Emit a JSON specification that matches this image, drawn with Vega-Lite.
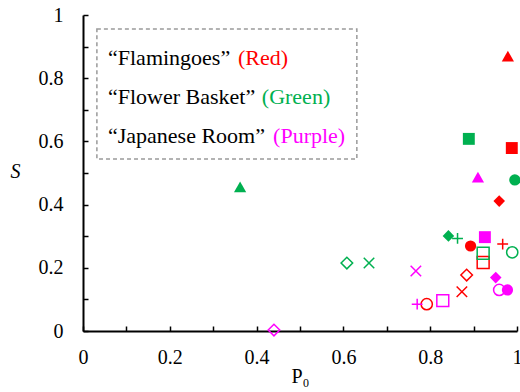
{
  "$schema": "https://vega.github.io/schema/vega-lite/v6.json",
  "width": 434,
  "height": 316,
  "autosize": {"type": "none"},
  "padding": {"left": 83, "top": 15, "right": 3, "bottom": 61},
  "background": "white",
  "config": {
    "view": {"stroke": null},
    "axis": {
      "grid": false,
      "domainColor": "black",
      "domainWidth": 2,
      "tickColor": "black",
      "tickWidth": 1.5,
      "tickSize": -5,
      "labelFont": "Liberation Serif",
      "labelFontSize": 20,
      "labelColor": "black",
      "titleFont": "Liberation Serif",
      "titleFontSize": 20,
      "titleFontWeight": "normal",
      "titleColor": "black"
    }
  },
  "encoding": {
    "x": {
      "field": "x", "type": "quantitative",
      "scale": {"domain": [0, 1], "nice": false, "zero": false},
      "axis": {
        "title": "P₀",
        "values": [0, 0.1, 0.2, 0.3, 0.4, 0.5, 0.6, 0.7, 0.8, 0.9, 1],
        "labelExpr": "round(datum.value*10) % 2 === 0 ? format(datum.value, '~g') : ''",
        "labelPadding": 21,
        "titlePadding": -1,
        "labelFlush": false
      }
    },
    "y": {
      "field": "y", "type": "quantitative",
      "scale": {"domain": [0, 1], "nice": false, "zero": false},
      "axis": {
        "title": "S",
        "titleFontStyle": "italic",
        "titleAngle": 0,
        "titleAlign": "center",
        "titleBaseline": "middle",
        "titleX": -68,
        "titleY": 156,
        "values": [0, 0.1, 0.2, 0.3, 0.4, 0.5, 0.6, 0.7, 0.8, 0.9, 1],
        "labelExpr": "round(datum.value*10) % 2 === 0 ? format(datum.value, '~g') : ''",
        "labelPadding": 25,
        "labelFlush": false
      }
    }
  },
  "layer": [
    {
      "data": {"values": [{"x": 0.032, "x2": 0.631, "y": 0.956, "y2": 0.544}]},
      "mark": {"type": "rect", "fill": null, "fillOpacity": 0, "stroke": "#9a9a9a", "strokeDash": [4, 3], "strokeWidth": 1.5},
      "encoding": {"x2": {"field": "x2"}, "y2": {"field": "y2"}}
    },
    {
      "data": {"values": [
        {"x": 0.0576, "y": 0.842, "label": "“Flamingoes”", "grp": "Black"},
        {"x": 0.357, "y": 0.842, "label": "(Red)", "grp": "Red"},
        {"x": 0.0576, "y": 0.718, "label": "“Flower Basket”", "grp": "Black"},
        {"x": 0.412, "y": 0.718, "label": "(Green)", "grp": "Green"},
        {"x": 0.0576, "y": 0.594, "label": "“Japanese Room”", "grp": "Black"},
        {"x": 0.438, "y": 0.594, "label": "(Purple)", "grp": "Purple"}
      ]},
      "mark": {"type": "text", "align": "left", "baseline": "alphabetic", "font": "Liberation Serif", "fontSize": 22},
      "encoding": {
        "text": {"field": "label"},
        "color": {"field": "grp", "type": "nominal", "legend": null,
          "scale": {"domain": ["Red", "Green", "Purple", "Black"], "range": ["#FF0000", "#00B050", "#FF00FF", "#000000"]}}
      }
    },
    {
      "data": {"name": "pts", "values": [
        {"x": 0.979, "y": 0.870, "grp": "Red", "mk": "triangle", "fill": "yes"},
        {"x": 0.988, "y": 0.579, "grp": "Red", "mk": "square", "fill": "yes"},
        {"x": 0.959, "y": 0.411, "grp": "Red", "mk": "diamond", "fill": "yes"},
        {"x": 0.893, "y": 0.269, "grp": "Red", "mk": "circle", "fill": "yes"},
        {"x": 0.967, "y": 0.275, "grp": "Red", "mk": "plus", "fill": "no"},
        {"x": 0.922, "y": 0.217, "grp": "Red", "mk": "square", "fill": "no"},
        {"x": 0.884, "y": 0.177, "grp": "Red", "mk": "diamond", "fill": "no"},
        {"x": 0.873, "y": 0.124, "grp": "Red", "mk": "x", "fill": "no"},
        {"x": 0.792, "y": 0.085, "grp": "Red", "mk": "circle", "fill": "no"},
        {"x": 0.362, "y": 0.456, "grp": "Green", "mk": "triangle", "fill": "yes"},
        {"x": 0.889, "y": 0.608, "grp": "Green", "mk": "square", "fill": "yes"},
        {"x": 0.995, "y": 0.478, "grp": "Green", "mk": "circle", "fill": "yes"},
        {"x": 0.842, "y": 0.301, "grp": "Green", "mk": "diamond", "fill": "yes"},
        {"x": 0.863, "y": 0.293, "grp": "Green", "mk": "plus", "fill": "no"},
        {"x": 0.922, "y": 0.246, "grp": "Green", "mk": "square", "fill": "no"},
        {"x": 0.989, "y": 0.249, "grp": "Green", "mk": "circle", "fill": "no"},
        {"x": 0.608, "y": 0.215, "grp": "Green", "mk": "diamond", "fill": "no"},
        {"x": 0.659, "y": 0.215, "grp": "Green", "mk": "x", "fill": "no"},
        {"x": 0.910, "y": 0.487, "grp": "Purple", "mk": "triangle", "fill": "yes"},
        {"x": 0.926, "y": 0.297, "grp": "Purple", "mk": "square", "fill": "yes"},
        {"x": 0.951, "y": 0.169, "grp": "Purple", "mk": "diamond", "fill": "yes"},
        {"x": 0.978, "y": 0.130, "grp": "Purple", "mk": "circle", "fill": "yes"},
        {"x": 0.959, "y": 0.130, "grp": "Purple", "mk": "circle", "fill": "no"},
        {"x": 0.767, "y": 0.190, "grp": "Purple", "mk": "x", "fill": "no"},
        {"x": 0.829, "y": 0.096, "grp": "Purple", "mk": "square", "fill": "no"},
        {"x": 0.770, "y": 0.085, "grp": "Purple", "mk": "plus", "fill": "no"},
        {"x": 0.440, "y": 0.003, "grp": "Purple", "mk": "diamond", "fill": "no"}
      ]},
      "layer": [
        {
          "transform": [{"filter": "datum.fill === 'no'"}],
          "mark": {"type": "point", "filled": false, "strokeWidth": 1.5, "opacity": 1},
          "encoding": {
            "shape": {"field": "mk", "type": "nominal", "legend": null,
              "scale": {"domain": ["triangle", "square", "diamond", "circle", "plus", "x"],
                        "range": ["triangle-up", "square", "diamond", "circle", "M-1,0H1M0,-1V1", "M-1,-1L1,1M-1,1L1,-1"]}},
            "size": {"field": "mk", "type": "nominal", "legend": null,
              "scale": {"domain": ["triangle", "square", "diamond", "circle", "plus", "x"], "range": [150, 110, 130, 100, 115, 100]}},
            "color": {"field": "grp", "type": "nominal", "legend": null,
              "scale": {"domain": ["Red", "Green", "Purple", "Black"], "range": ["#FF0000", "#00B050", "#FF00FF", "#000000"]}}
          }
        },
        {
          "transform": [{"filter": "datum.fill === 'yes'"}],
          "mark": {"type": "point", "filled": true, "opacity": 1},
          "encoding": {
            "shape": {"field": "mk", "type": "nominal", "legend": null},
            "size": {"field": "mk", "type": "nominal", "legend": null},
            "color": {"field": "grp", "type": "nominal", "legend": null}
          }
        }
      ]
    }
  ]
}
